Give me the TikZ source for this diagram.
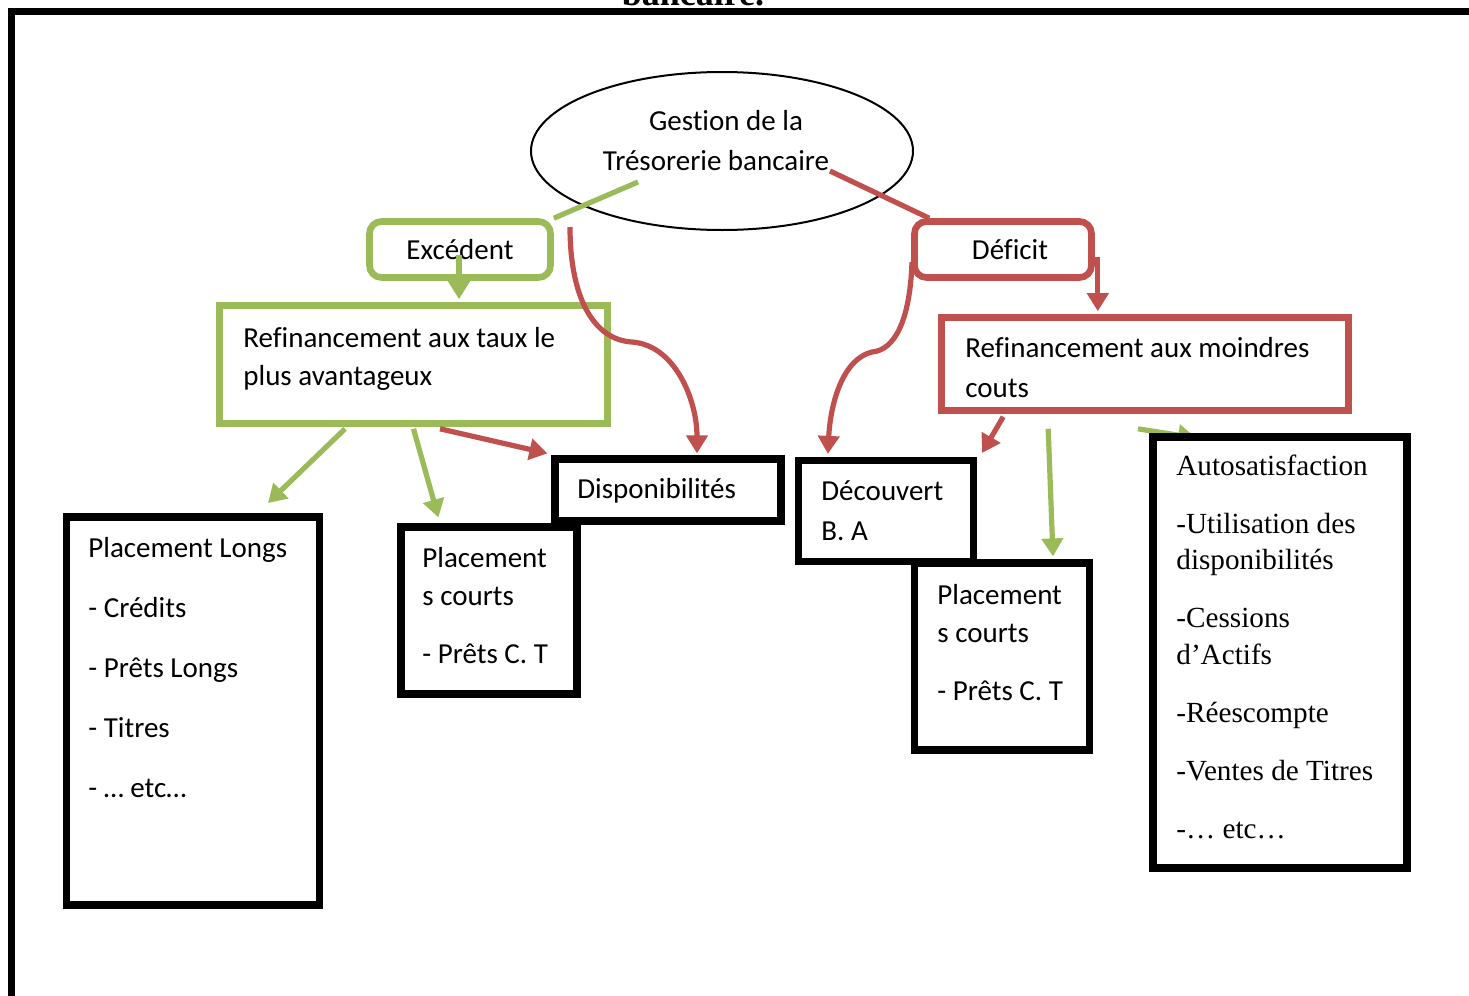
\documentclass[tikz,border=0pt]{standalone}
\usepackage{fontspec}
\setmainfont{Carlito}[Ligatures=NoCommon]
\newfontfamily\tnr{Liberation Serif}
\usetikzlibrary{arrows.meta,calc,shapes.geometric}
\definecolor{ogreen}{HTML}{9BBB59}
\definecolor{ored}{HTML}{C0504D}
\begin{document}
\begin{tikzpicture}[x=0.5pt,y=-0.5pt,
  cal/.style={font=\fontsize{14.5}{19}\selectfont},
  txt/.style={cal, anchor=north west, inner sep=0, align=left},
  ttxt/.style={font=\tnr\fontsize{14.6}{18.3}\selectfont, anchor=north west, inner sep=0, align=left},
  gbox/.style={draw=ogreen, line width=3.3pt, inner sep=0, cal},
  rbox/.style={draw=ored, line width=3.3pt, inner sep=0, cal},
  kbox/.style={draw=black, line width=3.6pt, fill=white, inner sep=0},
  tip/.style={-{Triangle[width=10.5pt,length=9pt]}},
  garr/.style={draw=ogreen, line width=2.6pt, tip},
  rarr/.style={draw=ored, line width=2.6pt, tip},
  gline/.style={draw=ogreen, line width=2.6pt},
  rline/.style={draw=ored, line width=2.6pt}]
\useasboundingbox (0,0) rectangle (1469,996);
% frame and cut title
\draw[line width=3.5pt] (11,1010) -- (11,11.5) -- (1480,11.5);
\node[font=\tnr\bfseries\fontsize{18}{20}\selectfont, anchor=base, inner sep=0] (title) at (693,5) {bancaire.};

% root ellipse
\node[draw, ellipse, line width=1pt, minimum width=191pt, minimum height=79pt, inner sep=0] (root) at (722,151) {};
\node[cal, font=\fontsize{14.5}{20}\selectfont, align=center, anchor=north, inner sep=0] (rootT) at (721,102) {\strut\hspace*{5pt}Gestion de la\\Trésorerie bancaire\hspace*{5pt}};

% level 1
\node[gbox, rounded corners=6pt, minimum width=90.5pt, minimum height=28pt] (exc) at (460,249.5) {Excédent};
\node[rbox, rounded corners=6pt, minimum width=88.5pt, minimum height=28pt] (def) at (1003,249.5) {\hspace*{7pt}Déficit};

% level 2
\node[gbox, minimum width=194pt, minimum height=59pt] (ref1) at (413.5,364.5) {};
\node[txt] (ref1T) at (243,320) {\strut Refinancement aux taux le\\plus avantageux};
\node[rbox, minimum width=203.5pt, minimum height=46.5pt] (ref2) at (1145,364) {};
\node[txt] (ref2T) at (965,330) {\strut Refinancement aux moindres\\[1pt]couts};

% black boxes
\node[kbox, minimum width=113pt, minimum height=31pt] (disp) at (668,490) {};
\node[txt] (dispT) at (577,471) {\strut Disponibilités};

\node[kbox, minimum width=126.5pt, minimum height=194pt] (pl) at (193,711) {};
\node[txt] (plT) at (88,530) {\strut Placement Longs\\[11pt]- Crédits\\[11pt]- Prêts Longs\\[11pt]- Titres\\[11pt]- … etc…};

\node[kbox, minimum width=88pt, minimum height=83.5pt] (pc1) at (489,610.5) {};
\node[txt] (pc1T) at (422,540) {\strut Placement\\s courts\\[10pt]- Prêts C. T};

\node[kbox, minimum width=87.5pt, minimum height=50.5pt] (dec) at (886,511) {};
\node[txt] (decT) at (821,473) {\strut Découvert\\[1pt]B. A};

\node[kbox, minimum width=87.5pt, minimum height=93.5pt] (pc2) at (1002,656.5) {};
\node[txt] (pc2T) at (937,577) {\strut Placement\\s courts\\[10pt]- Prêts C. T};

% hidden green arrow under the Autosatisfaction box
\draw[garr] ($(ref2.south)+(-7,15)$) -- (1196,438);
\node[kbox, minimum width=127pt, minimum height=215.5pt] (auto) at (1280,652.5) {};
\node[ttxt] (autoT) at (1176,449) {\strut Autosatisfaction\\[10.7pt]-Utilisation des\\disponibilités\\[10.7pt]-Cessions\\d’Actifs\\[10.7pt]-Réescompte\\[10.7pt]-Ventes de Titres\\[10.7pt]-… etc…};

% connectors from root
\coordinate (gA) at (638,182);
\coordinate (rA) at (830,171);
\draw[gline] (gA) -- (exc.north east);
\draw[rline] (rA) -- ($(def.north west)+(18,0)$);

% Excedent side
\draw[garr] ($(exc.center)+(-1,5)$) -- ($(exc.center |- ref1.north)+(-1,-3)$);
\coordinate (rc1s) at (570,227);
\draw[rarr] (rc1s) .. controls (570,300) and (595,340) .. (632,342)
  .. controls (675,345) and (697,400) .. ($(disp.north)+(29,-2)$);
\draw[rarr] ($(ref1.south)+(26.5,2)$) -- ($(disp.north west)+(-4,-2)$);
\coordinate (plA) at (268,503);
\draw[garr] ($(ref1.south)+(-68.5,2)$) -- (plA);
\draw[garr] ($(ref1.south)+(0,2)$) -- ($(pc1.north west)+(41,-6)$);

% Deficit side
\coordinate (rc2s) at (912,262);
\draw[rarr] (rc2s) .. controls (910,320) and (895,350) .. (872,352)
  .. controls (840,360) and (830,410) .. ($(dec.north west)+(33,-3)$);
\draw[rarr] ($(def.east)+(3,7)$) -- ($(def.east |- ref2.north)+(3,-3)$);
\draw[rarr] ($(ref2.south west)+(65,3)$) -- ($(dec.north east)+(5,-4)$);
\draw[garr] ($(ref2.south west)+(110,15)$) -- ($(pc2.north)+(51,-3)$);
\end{tikzpicture}
\end{document}
